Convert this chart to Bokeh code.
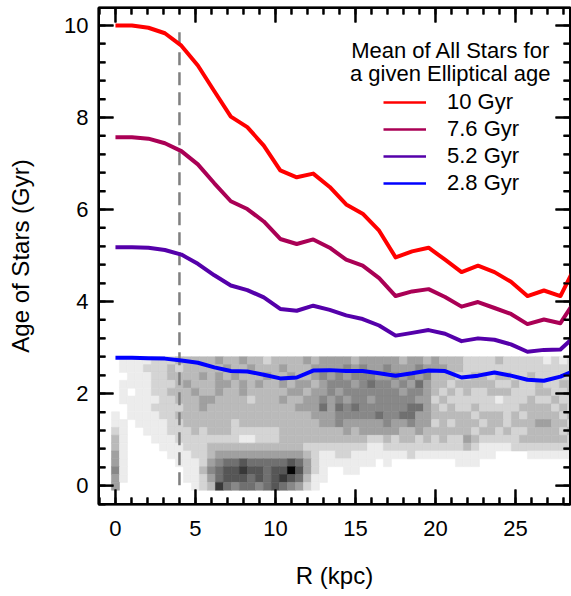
from bokeh.plotting import figure
from bokeh.layouts import gridplot
from bokeh.models import (Range1d, LinearAxis, SingleIntervalTicker, ColumnDataSource,
                          Label, Legend, LegendItem)
from bokeh.embed import file_html
from bokeh.resources import INLINE

# ---------------- data ----------------
R = [0.0, 1.03, 2.06, 3.09, 4.12, 5.15, 6.18, 7.21, 8.24, 9.27, 10.3, 11.33, 12.36,
     13.39, 14.42, 15.45, 16.48, 17.51, 18.54, 19.57, 20.6, 21.63, 22.66, 23.69,
     24.72, 25.75, 26.78, 27.81, 28.84]
age_10 = [10.0, 10.0, 9.95, 9.83, 9.56, 9.13, 8.57, 8.02, 7.79, 7.39, 6.85, 6.70, 6.78,
          6.49, 6.11, 5.91, 5.54, 4.96, 5.09, 5.17, 4.91, 4.64, 4.78, 4.64, 4.43, 4.12,
          4.24, 4.12, 4.83]
age_76 = [7.57, 7.57, 7.54, 7.44, 7.27, 6.98, 6.57, 6.18, 6.01, 5.74, 5.36, 5.25, 5.35,
          5.17, 4.91, 4.78, 4.51, 4.12, 4.22, 4.27, 4.10, 3.89, 3.99, 3.86, 3.73, 3.51,
          3.61, 3.53, 4.08]
age_52 = [5.18, 5.18, 5.17, 5.12, 5.02, 4.82, 4.57, 4.35, 4.25, 4.09, 3.84, 3.80, 3.91,
          3.82, 3.70, 3.62, 3.48, 3.26, 3.32, 3.38, 3.30, 3.14, 3.20, 3.17, 3.07, 2.91,
          2.95, 2.96, 3.29]
age_28 = [2.78, 2.78, 2.77, 2.76, 2.72, 2.67, 2.57, 2.49, 2.48, 2.41, 2.33, 2.35, 2.50,
          2.51, 2.49, 2.49, 2.44, 2.39, 2.44, 2.50, 2.49, 2.35, 2.39, 2.46, 2.39, 2.30,
          2.28, 2.37, 2.52]
series_labels = ["10 Gyr", "7.6 Gyr", "5.2 Gyr", "2.8 Gyr"]
series_colors = ["#ff0000", "#aa0055", "#5500aa", "#0000ff"]

# 2D histogram of all stars (density level 0-9), rows from top (age 2.8) to bottom (age -0.1)
hist_x0, hist_dx = 0.0, 0.5          # R bin centres
hist_ymin, hist_ymax = -0.1, 2.8     # age extent
hist_rows = [
    "01111222333334" "33433233334344" "44344444344343" "3322223222221212",
    "01112223233333" "43343334333444" "45454454445444" "3322222222222222",
    "00111223333434" "34333433433454" "54555445454533" "3223323322322222",
    "01111222343334" "43434334344345" "55456554546433" "2333332232232233",
    "01011223334334" "33433333443445" "45555555455432" "3232233322233223",
    "01111122333443" "33323334334454" "54554555554423" "2222221222322322",
    "00111222233433" "33333333344464" "65655555566432" "3223222223333232",
    "10111122333333" "33333333333444" "55555655664433" "3332333232333323",
    "11011112233333" "32333333333344" "54444454454423" "2333233233344332",
    "21001112223233" "32222223333333" "34344444334333" "3332332322333323",
    "31000111222222" "22112223333333" "33332232332323" "2243222223333332",
    "31000011122233" "33333333332222" "22221122222222" "2232111122222222",
    "41000001112234" "44444444443211" "22111111121111" "1111110000111111",
    "41000000111245" "66766666764211" "11111010000000" "0111000000000000",
    "51000000011356" "77877677974210" "01100000000000" "0000000000000000",
    "41000000011246" "77767678763110" "00000000000000" "0000000000000000",
    "40000000001238" "65665676542100" "00000000000000" "0000000000000000",
]
gray_levels = [255, 236, 212, 186, 160, 136, 112, 86, 56, 5]
vline_R = 4.0
vline_age = [9.85, -0.05]

x_major = [0, 5, 10, 15, 20, 25]
y_major = [0, 2, 4, 6, 8, 10]

# ---------------- figure ----------------
FONT = "Liberation Sans"
XMIN, XMAX, YMIN, YMAX = -1.06, 28.44, -0.41, 10.39
p = figure(width=571, height=596, x_range=Range1d(XMIN, XMAX), y_range=Range1d(YMIN, YMAX),
           output_backend="svg", toolbar_location=None,
           min_border_left=98, min_border_right=1, min_border_top=7, min_border_bottom=92)
p.xgrid.visible = False
p.ygrid.visible = False
p.outline_line_color = "black"
p.outline_line_width = 1.5

# heatmap cells
nrows = len(hist_rows)
dy = (hist_ymax - hist_ymin) / nrows
xs, ys, cols = [], [], []
for r, row in enumerate(hist_rows):
    row = (row + "0" * 60)[:58]
    for c, ch in enumerate(row):
        v = int(ch)
        if v == 0:
            continue
        g = gray_levels[v]
        xs.append(hist_x0 + c * hist_dx)
        ys.append(hist_ymax - (r + 0.5) * dy)
        cols.append("#%02x%02x%02x" % (g, g, g))
src = ColumnDataSource(dict(x=xs, y=ys, c=cols))
p.rect(x="x", y="y", width=hist_dx, height=dy, source=src, fill_color="c",
       line_color="c", line_width=0.6)

# frame and inward ticks on all four sides, drawn as filled bars
PX_X = 16.0   # screen px per kpc
PX_Y = 46.0   # screen px per Gyr
HW = 1.0      # half tick width, px
x_minor = [v for v in range(-1, 29) if v % 5 != 0]
y_minor = [round(k * 0.4, 2) for k in range(-1, 27) if k % 5 != 0]
ql, qr, qb, qt = [], [], [], []
for v, L in [(v, 15) for v in x_major] + [(v, 7) for v in x_minor]:
    for yb, yt in [(YMIN, YMIN + L / PX_Y), (YMAX - L / PX_Y, YMAX)]:
        ql.append(v - HW / PX_X); qr.append(v + HW / PX_X); qb.append(yb); qt.append(yt)
for v, L in [(v, 15) for v in y_major] + [(v, 7) for v in y_minor]:
    for xl, xr in [(XMIN, XMIN + L / PX_X), (XMAX - L / PX_X, XMAX)]:
        ql.append(xl); qr.append(xr); qb.append(v - HW / PX_Y); qt.append(v + HW / PX_Y)
FW = 1.5      # frame thickness inside the plot area, px
ql += [XMIN, XMIN, XMIN, XMAX - FW / PX_X]
qr += [XMAX, XMAX, XMIN + FW / PX_X, XMAX]
qb += [YMIN, YMAX - FW / PX_Y, YMIN, YMIN]
qt += [YMIN + FW / PX_Y, YMAX, YMAX, YMAX]
p.quad(left=ql, right=qr, bottom=qb, top=qt, fill_color="#000000", line_alpha=0)

# dashed vertical line
p.line([vline_R, vline_R], vline_age, line_color="#7f7f7f", line_width=2.5, line_dash="13 7")

# mean age curves
for ys_, col in zip([age_10, age_76, age_52, age_28], series_colors):
    p.line(R, ys_, line_color=col, line_width=4, line_join="round")

# legend (thin sample lines; hidden renderers used only for the legend)
items = []
for lab, col, ys_ in zip(series_labels, series_colors, [age_10, age_76, age_52, age_28]):
    rr = p.line(R, ys_, line_color=col, line_width=2.5, visible=False)
    items.append(LegendItem(label=lab, renderers=[rr]))
legend = Legend(items=items, location=(285, 308), orientation="vertical",
                glyph_width=43, glyph_height=20, label_height=20, label_standoff=21,
                label_text_font_size="22px", label_text_font=FONT, label_text_color="black",
                spacing=1, padding=0, margin=0, border_line_alpha=0,
                background_fill_alpha=0, click_policy="none")
p.add_layout(legend)

for txt, yy in [("Mean of All Stars for", 9.457), ("a given Elliptical age", 8.963)]:
    p.add_layout(Label(x=27.19, y=yy, text=txt, text_align="right", text_baseline="alphabetic",
                       text_font_size="22px", text_font=FONT, text_color="black"))

# axes
def style_axis(ax, interval, show_labels=True):
    ax.ticker = SingleIntervalTicker(interval=interval, num_minor_ticks=5)
    ax.major_tick_in = 15
    ax.major_tick_out = 0
    ax.minor_tick_in = 7
    ax.minor_tick_out = 0
    ax.axis_line_width = 2
    ax.major_tick_line_width = 2
    ax.minor_tick_line_width = 2
    ax.axis_line_color = "#000000"
    ax.major_tick_line_color = "#000000"
    ax.minor_tick_line_color = "#000000"
    if show_labels:
        ax.major_label_text_font = FONT
        ax.major_label_text_font_size = "22px"
        ax.major_label_text_color = "black"
        ax.axis_label_text_font = FONT
        ax.axis_label_text_font_size = "24px"
        ax.axis_label_text_font_style = "normal"
        ax.axis_label_text_color = "black"
    else:
        ax.major_label_text_alpha = 0
        ax.major_label_text_font_size = "2px"
        ax.major_label_standoff = 0

xa = p.xaxis[0]
style_axis(xa, 5)
xa.axis_label = "R (kpc)"
xa.major_label_standoff = 16
xa.axis_label_standoff = 23

ya = p.yaxis[0]
style_axis(ya, 2)
ya.axis_label = "Age of Stars (Gyr)"
ya.major_label_standoff = 10
ya.axis_label_standoff = 27

top = LinearAxis()
style_axis(top, 5, show_labels=False)
p.add_layout(top, "above")
right = LinearAxis()
style_axis(right, 2, show_labels=False)
p.add_layout(right, "right")

g = gridplot([[p]], toolbar_location=None)
open("out.html", "w").write(file_html(g, INLINE))
